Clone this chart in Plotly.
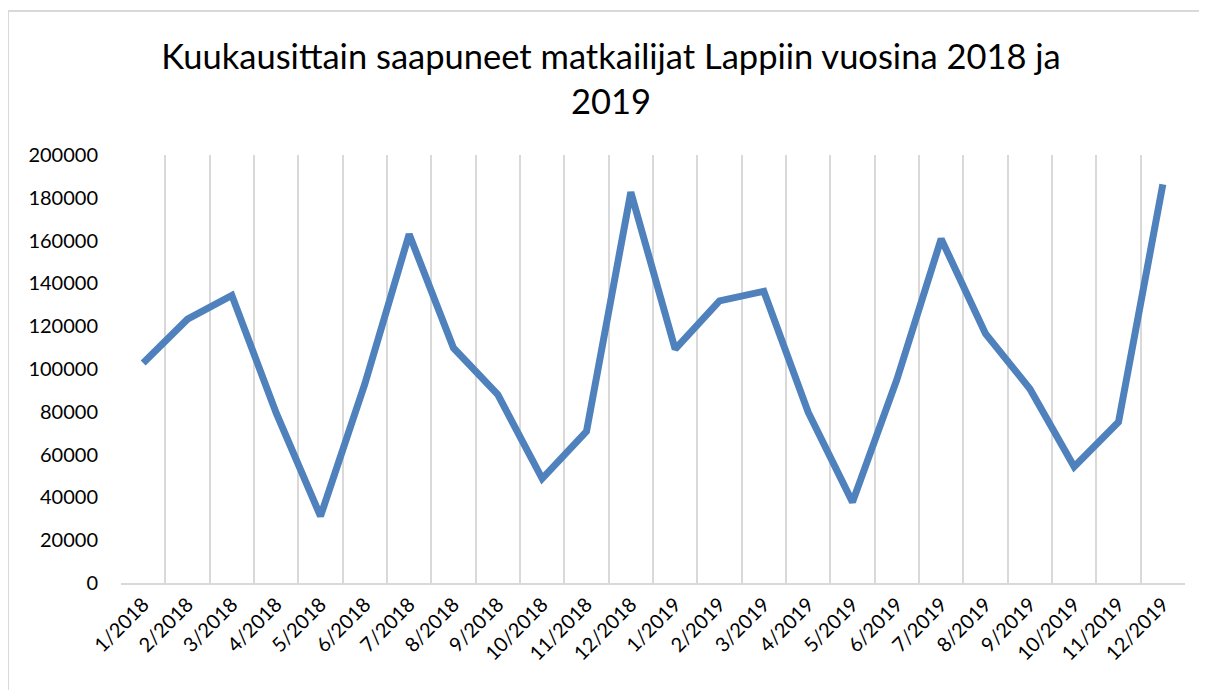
import plotly.graph_objects as go

months = ["1/2018", "2/2018", "3/2018", "4/2018", "5/2018", "6/2018",
          "7/2018", "8/2018", "9/2018", "10/2018", "11/2018", "12/2018",
          "1/2019", "2/2019", "3/2019", "4/2019", "5/2019", "6/2019",
          "7/2019", "8/2019", "9/2019", "10/2019", "11/2019", "12/2019"]
visitors = [102800, 123300, 134400, 79500, 31200, 93000,
            163000, 109800, 88000, 48800, 70900, 182600,
            109300, 131800, 136300, 79800, 37800, 95000,
            160800, 116500, 90800, 54300, 75200, 186300]

title_text = "Kuukausittain saapuneet matkailijat Lappiin vuosina 2018 ja<br>2019"
y_ticks = [0, 20000, 40000, 60000, 80000, 100000, 120000, 140000, 160000, 180000, 200000]

FONT = "Lato"
GRID = "#d9d9d9"

# page body has an 8px margin, so the figure starts at (8, 8)
L, T, PW, PH = 113, 147, 1064, 428

fig = go.Figure()
fig.add_trace(go.Scatter(
    x=months, y=visitors, mode="lines",
    line=dict(color="#4f81bd", width=7),
    hoverinfo="x+y", showlegend=False,
))

fig.update_layout(
    width=1207, height=690,
    margin=dict(l=L, r=1207 - L - PW, t=T, b=690 - T - PH, autoexpand=False),
    paper_bgcolor="white", plot_bgcolor="white",
    font=dict(family=FONT, color="#000000", size=20),
    title=dict(text=title_text, x=0.4996, xanchor="center",
               y=1 - 61 / 690, yanchor="top", yref="container",
               font=dict(family=FONT, size=34.5, color="#000000")),
    xaxis=dict(type="category", tickson="boundaries", showgrid=True,
               range=[-0.5, len(months) - 0.5], automargin=False,
               gridcolor=GRID, gridwidth=2, showline=True, linecolor=GRID,
               linewidth=2, ticks="", tickangle=-45, zeroline=False,
               tickfont=dict(size=20)),
    yaxis=dict(range=[0, 200000], tickvals=y_ticks, tickformat="d",
               automargin=False,
               showgrid=False, zeroline=False, showline=False, ticks="",
               ticklabelstandoff=22, tickfont=dict(size=20)),
    shapes=[dict(type="rect", xref="paper", yref="paper",
                 x0=-L / PW, x1=1.3, y0=-0.5, y1=1 + (T - 3) / PH,
                 line=dict(color=GRID, width=2), fillcolor="rgba(0,0,0,0)",
                 layer="below")],
)

fig.write_html("out.html")
